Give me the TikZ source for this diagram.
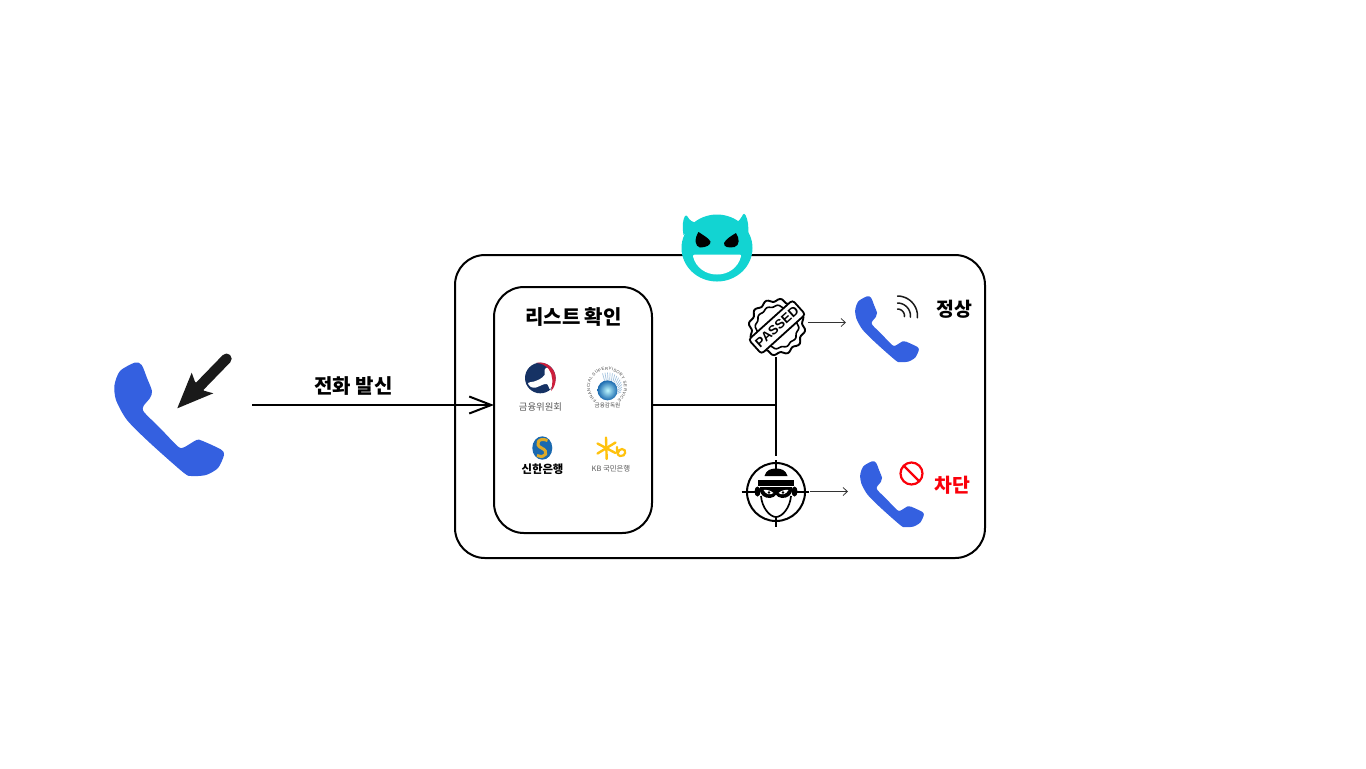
\documentclass[tikz,border=0pt]{standalone}
\usepackage{fontspec}
\usetikzlibrary{arrows.meta,decorations.text}
\setmainfont{Noto Sans CJK KR}
\newfontfamily\latinbold{Liberation Sans}
\definecolor{phoneblue}{RGB}{52,96,224}
\definecolor{devilcyan}{RGB}{18,212,210}
\definecolor{navy}{RGB}{22,50,100}
\definecolor{fsred}{RGB}{205,30,60}
\definecolor{kbyellow}{RGB}{255,194,14}
\definecolor{shblue}{RGB}{26,105,175}
\definecolor{shgold}{RGB}{222,170,40}
\definecolor{blockred}{RGB}{250,0,10}
\definecolor{inkblack}{RGB}{26,26,26}
\tikzset{
  x=0.5pt,y=-0.5pt,
  boxline/.style={draw=black,line width=1pt,fill=none,rectangle,inner sep=0pt,rounded corners=15pt},
  wire/.style={line width=1pt,draw=black},
  thinarrow/.style={line width=0.4pt,draw=black!80,-{Straight Barb[length=2.2pt,width=4pt,line width=0.4pt]}},
  label/.style={inner sep=0pt,font=\bfseries\fontsize{9.7}{11}\selectfont},
  smalllabel/.style={inner sep=0pt},
  phone/.pic={
    \fill[phoneblue,shift={(-114,-362)}] plot[smooth cycle,tension=0.45] coordinates {
      (135,362.5)(141.7,365)(147,378)(152,391)(150,398)(143.5,406)(144,412)(160,428)(178,446.5)(184,447.3)(196.5,440)(202,440.7)(221,449.5)(224,455)(218,468)(206,475)(192,476)(184,473)(150,443)(127,420)(116,400)(114.5,385)(120,371)};
  },
}
\begin{document}
\begin{tikzpicture}
\useasboundingbox (0,0) rectangle (1366,768);
% frames
\node[boxline,minimum width=265pt,minimum height=151.5pt] (outer) at (720,406.5) {};
\node[boxline,minimum width=79pt,minimum height=123pt,fill=white] (listbox) at (573,410) {};
% devil
\fill[devilcyan] (717,248) ellipse [x radius=35.5,y radius=33.5];
\fill[devilcyan] (683.5,235) .. controls (682,226) and (683,219) .. (685,216) .. controls (686,215) and (687,215.5) .. (687.5,216.5) .. controls (689,220) and (693,223) .. (699,223) -- cycle;
\fill[devilcyan] (735,222.5) .. controls (739,222) and (741,218) .. (743,214.5) .. controls (743.5,213.5) and (745,213.5) .. (745.5,215) .. controls (748,220) and (749,227) .. (748,235) -- cycle;
\fill[black] (698.5,232) .. controls (703,235) and (708.5,238) .. (710.5,241.5) .. controls (711,245) and (706,247.5) .. (700,247.5) .. controls (695,246.5) and (694,239) .. (698.5,232) -- cycle;
\fill[black] (736,233) .. controls (739.5,238) and (740,245.5) .. (734.5,247) .. controls (729,248) and (723.5,247.5) .. (724,243) .. controls (726,239) and (731,236) .. (736,233) -- cycle;
\fill[white] (695,254.5) -- (739.5,254.5) .. controls (741,254.5) and (741,255.5) .. (741,256.5) .. controls (738,268) and (728,274.5) .. (717,274.5) .. controls (706,274.5) and (696,268) .. (693,256.5) .. controls (693,255.5) and (693.5,254.5) .. (695,254.5) -- cycle;
% left phone and arrow
\pic at (114,362) {phone};
\draw[line width=5.2pt,line cap=round,inkblack] (199,387) -- (226.5,358.7);
\fill[inkblack] (177.3,408.3) -- (191.7,372.7) -- (195,381.7) -- (204,390.7) -- (213.3,393.3) -- cycle;
% main connectors
\coordinate (callstart) at (252,405);
\coordinate (listin) at (494,405);
\coordinate (listout) at (652,405);
\coordinate (junction) at (776,405);
\coordinate (passbottom) at (776,357);
\coordinate (targettop) at (776,456);
\draw[wire,-{Straight Barb[length=11pt,width=8.5pt,line width=1pt]}] (callstart) -- (listin);
\draw[wire] (listout) -- (junction);
\draw[wire] (passbottom) -- (targettop);
\node[label,font=\bfseries\fontsize{10}{12}\selectfont] (calllabel) at (353.5,386) {전화 발신};
\node[label,font=\bfseries\fontsize{10}{12}\selectfont] (listlabel) at (573.5,316.5) {리스트 확인};
% Taegeuk logo
\fill[navy] (540.3,378) circle [radius=15.3];
\fill[white] plot[smooth cycle,tension=.6] coordinates {(528,383)(534,381.5)(540,379)(544.5,375)(544.5,370)(548,367.5)(553,375)(553,383)(550,389)(547,384)(542,385)(536,387.5)(531,387)};
\fill[fsred] (536,362.9) .. controls (547,360.5) and (556,369) .. (555.7,379) .. controls (555.5,384) and (554,388) .. (551,391) .. controls (553,383) and (553,375) .. (549,369.5) .. controls (546,365.5) and (541,363) .. (536,362.9) -- cycle;
\node[smalllabel,text=black!65,font=\fontsize{4.7}{5}\selectfont] (fsclabel) at (540.5,406.5) {금융위원회};
% FSS logo
\foreach \a in {-20,-10,...,110}{
  \draw[line width=0.35pt,shblue!40] ({608+10*cos(\a)},{390-10*sin(\a)}) -- ({607.5+14.5*cos(\a)},{387-14.5*sin(\a)});
}
\shade[inner color=blue!10!cyan!25,outer color=shblue] (607.5,390.3) circle [radius=10];
\path[decorate,decoration={text along path,text align={fit to path},text={|\fontsize{2.1}{2.5}\latinbold\color{black!75}\selectfont|FINANCIAL SUPERVISORY SERVICE}}]
  plot[domain=232:-52,samples=50] ({607+17*cos(\x)},{387-17*sin(\x)});
\node[smalllabel,text=black!70,font=\fontsize{2.8}{3}\selectfont] (fsslabel) at (607.5,405.5) {금융감독원};
% Shinhan logo
\fill[shblue] (542.3,448) ellipse [x radius=10,y radius=11.7];
\draw[shgold,line width=1.5pt] (547.5,440.5) .. controls (538,436.5) and (534.5,445) .. (541.5,448) .. controls (549,451) and (546.5,459) .. (537,455.5);
\node[smalllabel,font=\bfseries\fontsize{5.7}{6}\selectfont] (shlabel) at (542.5,469) {신한은행};
% KB logo
\draw[kbyellow,line width=1.2pt,line cap=round] (606,437.5) -- (606.7,459);
\draw[kbyellow,line width=1.2pt,line cap=round] (597.5,443.5) -- (615.5,453);
\draw[kbyellow,line width=1.2pt,line cap=round] (597.5,453.5) -- (615.5,442.5);
\draw[kbyellow,line width=1.1pt,line cap=round] (617,447) .. controls (617,452) and (617,455) .. (620,456) .. controls (626,457) and (627,449) .. (622,449) .. controls (620,449) and (618,451) .. (618,453);
\node[smalllabel,text=black!65,font=\fontsize{3.7}{4}\selectfont] (kblabel) at (611,468.5) {KB 국민은행};
% PASSED badge
\draw[line width=0.95pt,fill=white] plot[smooth cycle,domain=0:356,samples=90] ({777+(26.8+1.5*sin(12*\x))*cos(\x)},{327+(26.8+1.5*sin(12*\x))*sin(\x)});
\draw[line width=0.8pt] plot[smooth cycle,domain=0:356,samples=90] ({777+(21+0.8*sin(12*\x+60))*cos(\x)},{327+(21+0.8*sin(12*\x+60))*sin(\x)});
\node[draw=black,line width=0.9pt,fill=white,rounded corners=1.5pt,rotate=42,minimum width=29.5pt,minimum height=9.6pt,inner sep=0pt] (passed) at (777,327) {\latinbold\bfseries\fontsize{6.6}{7}\selectfont PASSED};
% Target / thief
\draw[line width=1pt] (776,492) circle [radius=29];
\draw[wire] (741.5,492) -- (755,492) (797,492) -- (809,492) (776,460) -- (776,469) (776,517) -- (776,527);
\fill[black] (764.5,476) .. controls (766,470) and (771,468.5) .. (776,468.5) .. controls (781,468.5) and (786,470) .. (787.5,476) -- cycle;
\fill[black] (758,480) rectangle (794,485.5);
\draw[line width=0.85pt] (761,496) .. controls (762,508) and (770,517) .. (776,517) .. controls (782,517) and (790,508) .. (791,496);
\fill[black] (760,487) -- (792,487) -- (792,491) .. controls (791,495) and (788,498) .. (782,498) .. controls (779,498) and (777,496) .. (776,494.5) .. controls (775,496) and (773,498) .. (770,498) .. controls (764,498) and (761,495) .. (760,491) -- cycle;
\fill[black] (757.5,491.5) ellipse [x radius=3,y radius=5];
\fill[black] (794.5,491.5) ellipse [x radius=3,y radius=5];
\fill[white] (763.5,490) .. controls (767,489.5) and (771,490.5) .. (773.5,493) .. controls (770,495.5) and (766,494.5) .. (763.5,490) -- cycle;
\fill[white] (788.5,490) .. controls (785,489.5) and (781,490.5) .. (778.5,493) .. controls (782,495.5) and (786,494.5) .. (788.5,490) -- cycle;
\fill[black] (769,492.5) circle [radius=1.3];
\fill[black] (783,492.5) circle [radius=1.3];
% outcome arrows
\coordinate (passarrowstart) at (808,322.5);
\coordinate (passarrowend) at (846,322.5);
\coordinate (blockarrowstart) at (810,491.5);
\coordinate (blockarrowend) at (848,491.5);
\draw[thinarrow] (passarrowstart) -- (passarrowend);
\draw[thinarrow] (blockarrowstart) -- (blockarrowend);
% outcome phones
\pic[scale=0.58] at (855,296) {phone};
\pic[scale=0.58] at (860,461) {phone};
% signal arcs
\foreach \r in {7,13,20}{
  \draw[line width=0.75pt,inkblack,line cap=round] plot[domain=90:-5,samples=14] ({897.5+\r*cos(\x)},{316-\r*sin(\x)});
}
\node[label] (oklabel) at (954,309) {정상};
% prohibited sign
\draw[blockred,line width=1.1pt] (911.5,473.5) circle [radius=11];
\draw[blockred,line width=1.1pt] (903.8,465.8) -- (919.2,481.2);
\node[label,text=blockred] (blocklabel) at (952,485.5) {차단};
\end{tikzpicture}
\end{document}
